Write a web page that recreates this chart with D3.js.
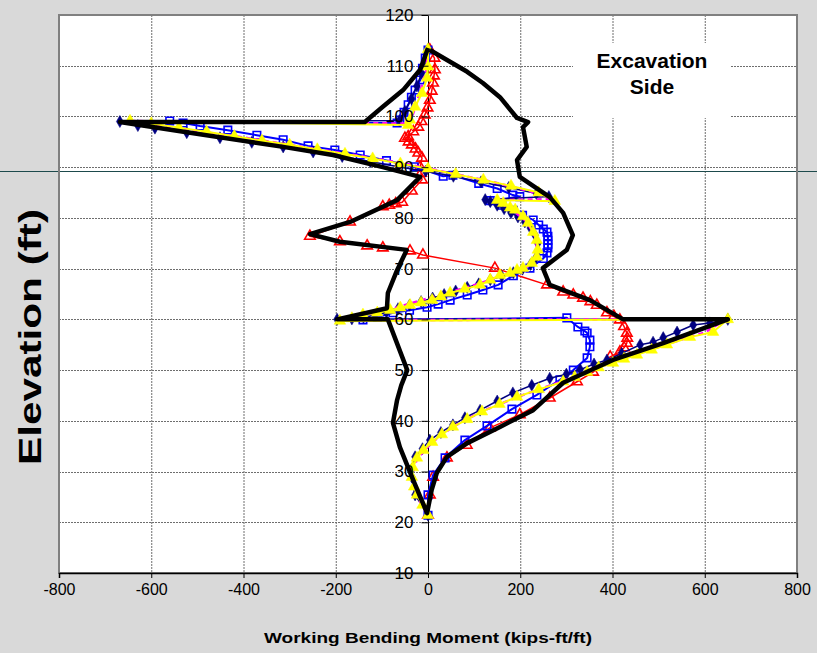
<!DOCTYPE html>
<html>
<head>
<meta charset="utf-8">
<script src="https://cdn.jsdelivr.net/npm/d3@7"></script>
<style>
  body { margin: 0; background: #d9d9d9; }
  svg { display: block; font-family: "Liberation Sans", Arial, sans-serif; }
</style>
</head>
<body>
<div id="chart"></div>
<script>
// [moment (kips-ft/ft), elevation (ft)]
const envelope = [[0,113.5],[-17,109.2],[-54,105.2],[-98,101.9],[-137,98.9],[-668,98.9],[-523,96.9],[-314,94],[-206,92.4],[-98,90],[-17,88.1],[-67,83.5],[-169,79.2],[-256,76.8],[-191,75.3],[-46,73.7],[-67,69.7],[-87,65.2],[-89,62.2],[-197,60],[-87,60],[-45,50],[-58,47],[-67,44.1],[-76,39.6],[-61,34.8],[-32,28.3],[-2,21.8],[8,26.4],[19,29.7],[41,32.9],[85,35.6],[156,38.8],[228,42.1],[293,47.5],[401,52],[510,55.3],[650,60],[423,60],[351,63.8],[264,66.8],[249,70.1],[301,73.7],[314,76.6],[293,81],[264,84.1],[199,88.1],[193,91.4],[214,94],[206,97.9],[217,98.9],[193,99.7],[156,103.8],[119,106.6],[85,108.8],[4,113.1]];

const case1 = [[4,113.1],[14,111.5],[15,109.2],[13,108],[11,106.6],[8,105],[4,103.2],[-1,101.7],[-7,100.3],[-14,99],[-21,97.9],[-32,97],[-43,96],[-50,95.7],[-42,95],[-35,94.4],[-27,93.6],[-21,92.8],[-13,91.8],[-17,90],[-15,88.8],[-13,87.5],[-35,85.3],[-56,83.1],[-70,82.8],[-84,82.5],[-98,82.2],[-169,79.2],[-256,76.4],[-191,75.3],[-132,74.5],[-98,74.1],[-39,73.5],[-11,72.7],[145,70.1],[258,66.8],[293,65.4],[315,64.8],[336,64.2],[352,63.5],[366,62.8],[388,61.3],[403,60.6],[416,59.9],[425,58.6],[431,57.3],[432,56.3],[431,55.3],[425,54.4],[416,53.6],[395,52.6],[358,49.6],[323,47.7],[264,44.5],[199,41.2],[134,38.6],[84,35.2],[41,32.7],[11,28.9],[4,25.4],[0,21.4]];

const case2 = [[0,113.1],[-6,111.5],[-12,109.5],[-17,107.2],[-28,105.2],[-36,103.8],[-43,102.3],[-52,100.8],[-61,99.3],[-67,98.7],[-560,99.1],[-531,98.7],[-494,98.1],[-434,97.3],[-371,96.3],[-314,95.4],[-260,94.2],[-202,93.4],[-147,92.4],[-90,91.3],[-30,90.1],[33,88.2],[54,88.4],[110,86.8],[150,85.8],[184,84.5],[199,84.2],[135,83.4],[160,82.5],[185,81.5],[205,80.5],[228,79.6],[240,78.6],[250,77.8],[258,77.2],[260,76.4],[260,75.6],[260,74.8],[260,74.1],[258,73.1],[250,72],[221,70.1],[185,68.6],[152,66.8],[119,65.8],[85,64.8],[48,63.8],[22,63],[-2,62.4],[-40,61.8],[-76,61.3],[-110,60.4],[-141,59.9],[301,60.3],[325,58.5],[340,57.7],[345,57.3],[351,55.9],[351,54.6],[345,52.4],[315,50],[286,48.1],[236,45.1],[182,42.3],[128,39],[80,36.2],[37,32.7],[11,29.3],[0,25.4],[0,21.4]];

const case3 = [[0,113.2],[-6,111],[-14,108.5],[-24,106],[-36,103.5],[-50,101],[-62,99.2],[-668,99],[-629,98.2],[-592,97.7],[-523,96.8],[-451,95.8],[-382,94.9],[-314,94],[-249,93],[-186,92.1],[-125,91.1],[-65,90.1],[-5,89.2],[55,88.2],[115,87.1],[175,86],[235,84.8],[262,84.2],[124,83.6],[135,83.2],[150,82.5],[165,81.8],[180,81],[195,80.2],[210,79.2],[222,78],[232,76.6],[238,75],[238,73.5],[233,72],[222,70.8],[205,69.9],[185,69.2],[160,68.5],[135,67.8],[110,67],[85,66.3],[60,65.6],[35,64.9],[10,64.2],[-15,63.5],[-40,62.8],[-65,62.1],[-90,61.4],[-115,60.8],[-140,60.4],[-165,60.1],[-197,60],[650,60],[611,59.3],[575,58.9],[540,57.5],[510,56.4],[488,55.5],[460,55],[420,53.3],[388,52],[360,51.2],[330,50.1],[300,49.2],[264,48.4],[225,47],[184,45.5],[150,43.9],[113,42.1],[80,40.6],[54,39.2],[28,37.7],[4,36.2],[-12,34.5],[-28,32.9],[-35,30.5],[-35,28.9],[-28,25.4],[0,21.4]];

const case4 = [[0,113.2],[-4,109],[-20,104],[-36,99.5],[-40,98.6],[-650,99.1],[-590,98.3],[-500,97.1],[-410,96],[-320,94.7],[-230,93.4],[-140,92.1],[-50,90.7],[40,89],[130,87.3],[220,85.3],[270,83.7],[145,83.5],[180,81.8],[215,79.2],[235,75.8],[236,72.6],[215,70.4],[170,69],[110,67],[45,65.3],[-10,63.9],[-80,62],[-140,60.8],[-192,59.8],[648,60.1],[600,57.4],[520,55.2],[440,52.8],[360,50.2],[290,47.8],[200,44.9],[120,42],[55,38.9],[8,35.7],[-24,32.5],[-36,28.8],[-24,25.2],[0,21.3]];

const case5 = [[0,113.2],[0,109.8],[-2,107.6],[-13,104.6],[-28,101.9],[-39,99.3],[-43,98.3],[-646,99.1],[-600,98.6],[-540,97.8],[-480,97],[-420,96.1],[-360,95.2],[-300,94.4],[-240,93.5],[-180,92.6],[-120,91.7],[-60,90.7],[0,89.7],[60,88.6],[120,87.5],[180,86.3],[240,85],[275,83.3],[150,83.5],[163,82.9],[178,82],[189,81.6],[206,80.3],[217,79],[228,77.2],[236,75.6],[238,73.7],[236,72.3],[225,71.1],[206,70.1],[193,69.7],[178,69.1],[156,68.7],[135,67.8],[113,66.8],[80,66],[48,65.2],[28,64.5],[9,63.8],[-15,63.3],[-39,62.8],[-60,62.3],[-82,61.8],[-110,61.3],[-141,60.9],[-165,60.2],[-191,59.7],[650,60],[618,57.5],[568,56.5],[518,55],[485,54],[453,53],[425,52.2],[401,51.4],[370,50.5],[345,49.6],[318,48.6],[293,47.7],[240,46.2],[193,44.7],[155,43.3],[117,41.8],[85,40.3],[54,38.8],[30,37.3],[9,35.8],[-10,34.2],[-24,32.7],[-33,30.8],[-35,28.9],[-30,27],[-24,25.4],[-12,23.4],[0,21.4]];

const xTicks = [-800, -600, -400, -200, 0, 200, 400, 600, 800];
const yTicks = [10, 20, 30, 40, 50, 60, 70, 80, 90, 100, 110, 120];
const groundElev = 89.2;
const noteLines = ["Excavation", "Side"];

const W = 817, H = 653;
const L = 59, R = 797, T = 15, B = 573;

const svg = d3.select('#chart').append('svg')
    .attr('width', W)
    .attr('height', H);

svg.append('rect').attr('width', W).attr('height', H).attr('fill', '#d9d9d9');

const x = d3.scaleLinear().domain([-800, 800]).range([L, R]);
const y = d3.scaleLinear().domain([10, 120]).range([B, T]);

// plot area
svg.append('rect')
    .attr('x', L).attr('y', T)
    .attr('width', R - L).attr('height', B - T)
    .attr('fill', '#fff');

// grid
const grid = svg.append('g')
    .attr('stroke', '#6e6e6e')
    .attr('stroke-width', 1)
    .attr('stroke-dasharray', '2,1');
grid.selectAll('line.v')
    .data(xTicks.filter(d => d > -800 && d < 800 && d !== 0))
    .join('line')
    .attr('x1', d => x(d) + 0.5).attr('x2', d => x(d) + 0.5)
    .attr('y1', T).attr('y2', B);
grid.selectAll('line.h')
    .data(yTicks.filter(d => d > 10 && d < 120))
    .join('line')
    .attr('x1', L).attr('x2', R)
    .attr('y1', d => Math.round(y(d)) + 0.5).attr('y2', d => Math.round(y(d)) + 0.5);

// note box
const nb = svg.append('g');
nb.append('rect')
    .attr('x', 573).attr('y', 43).attr('width', 157).attr('height', 75)
    .attr('fill', '#fff');
nb.selectAll('text')
    .data(noteLines)
    .join('text')
    .attr('x', 652)
    .attr('y', (d, i) => 68 + i * 26)
    .attr('text-anchor', 'middle')
    .attr('font-size', 21)
    .attr('font-weight', 'bold')
    .text(d => d);

// ground line
svg.append('line')
    .attr('x1', 0).attr('x2', W)
    .attr('y1', Math.round(y(groundElev)) + 0.5).attr('y2', Math.round(y(groundElev)) + 0.5)
    .attr('stroke', '#1d4a4c')
    .attr('stroke-width', 1);

// zero line
svg.append('line')
    .attr('x1', x(0) + 0.5).attr('x2', x(0) + 0.5)
    .attr('y1', T).attr('y2', B)
    .attr('stroke', '#000');

const line = d3.line().x(d => x(d[0])).y(d => y(d[1]));

const series = [
    { data: case1, color: '#ff0000', width: 1.5, symbol: d3.symbolTriangle, size: 48, fill: 'none' },
    { data: case2, color: '#0000ff', width: 2, symbol: d3.symbolSquare, size: 56, fill: 'none' },
    { data: case3, color: '#000080', width: 1.5, symbol: d3.symbolDiamond, size: 42, fill: '#000080' },
    { data: case4, color: '#ff00ff', width: 2.5, dash: '5,4' },
    { data: case5, color: '#ffff00', width: 2, symbol: d3.symbolTriangle, size: 58, fill: '#ffff00' }
];

series.forEach(s => {
    svg.append('path')
        .datum(s.data)
        .attr('fill', 'none')
        .attr('stroke', s.color)
        .attr('stroke-width', s.width)
        .attr('stroke-dasharray', s.dash || null)
        .attr('stroke-linejoin', 'round')
        .attr('d', line);
    if (s.symbol) {
        svg.append('g')
            .selectAll('path')
            .data(s.data)
            .join('path')
            .attr('transform', d => `translate(${x(d[0])},${y(d[1])})`)
            .attr('d', d3.symbol(s.symbol, s.size))
            .attr('fill', s.fill)
            .attr('stroke', s.color)
            .attr('stroke-width', s.fill === 'none' ? 1.6 : 0.5);
    }
});

// envelope
svg.append('path')
    .datum(envelope)
    .attr('fill', 'none')
    .attr('stroke', '#000')
    .attr('stroke-width', 4.5)
    .attr('stroke-linejoin', 'round')
    .attr('d', line);

// border
svg.append('rect')
    .attr('x', L).attr('y', T)
    .attr('width', R - L).attr('height', B - T)
    .attr('fill', 'none')
    .attr('stroke', '#808080')
    .attr('stroke-width', 2);

// axes
const yAxis = svg.append('g')
    .attr('transform', `translate(${x(0) + 0.5},0)`)
    .call(d3.axisLeft(y).tickValues(yTicks).tickSize(7).tickPadding(8).tickFormat(d => String(d)));
yAxis.select('.domain').remove();
yAxis.selectAll('text').attr('font-size', 17).attr('fill', '#000').attr('font-family', '"Liberation Sans", Arial, sans-serif');
yAxis.selectAll('line').attr('stroke', '#000');

const xAxis = svg.append('g')
    .attr('transform', `translate(0,${B})`)
    .call(d3.axisBottom(x).tickValues(xTicks).tickSize(5).tickPadding(6).tickFormat(d => String(d)));
xAxis.select('.domain').attr('stroke', '#000').attr('stroke-width', 1.5);
xAxis.selectAll('text').attr('font-size', 16).attr('fill', '#000').attr('font-family', '"Liberation Sans", Arial, sans-serif');
xAxis.selectAll('line').attr('stroke', '#000');

// titles
svg.append('text')
    .attr('x', x(0)).attr('y', 643)
    .attr('text-anchor', 'middle')
    .attr('font-size', 15)
    .attr('font-weight', 'bold')
    .attr('textLength', 328)
    .attr('lengthAdjust', 'spacingAndGlyphs')
    .text('Working Bending Moment (kips-ft/ft)');

svg.append('text')
    .attr('transform', 'translate(41,337) rotate(-90)')
    .attr('text-anchor', 'middle')
    .attr('font-size', 32)
    .attr('font-weight', 'bold')
    .attr('textLength', 256)
    .attr('lengthAdjust', 'spacingAndGlyphs')
    .text('Elevation (ft)');
</script>
</body>
</html>
